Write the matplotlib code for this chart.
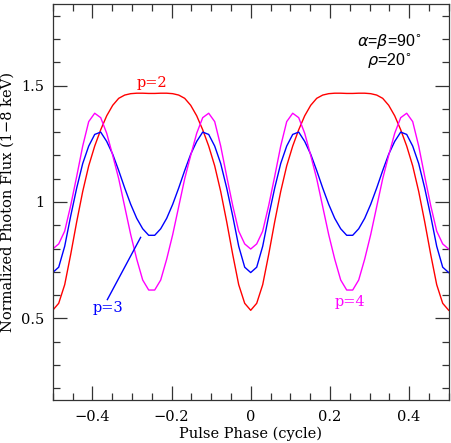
import numpy as np
import matplotlib
matplotlib.use("Agg")
import matplotlib.pyplot as plt
from matplotlib.ticker import MultipleLocator, FuncFormatter

# pulse phase grid (cycle)
phase = np.arange(-33, 34) / 66.0

flux_p2 = [0.535, 0.565, 0.645, 0.775, 0.915, 1.045, 1.155, 1.240, 1.310, 1.370, 1.415, 1.445, 1.459, 1.465, 1.467, 1.467, 1.466,
           1.466, 1.467, 1.467, 1.465, 1.459, 1.445, 1.415, 1.370, 1.310, 1.240, 1.155, 1.045, 0.915, 0.775, 0.645, 0.565, 0.535,
           0.565, 0.645, 0.775, 0.915, 1.045, 1.155, 1.240, 1.310, 1.370, 1.415, 1.445, 1.459, 1.465, 1.467, 1.467, 1.466,
           1.466, 1.467, 1.467, 1.465, 1.459, 1.445, 1.415, 1.370, 1.310, 1.240, 1.155, 1.045, 0.915, 0.775, 0.645, 0.565, 0.535]

flux_p3 = [0.697, 0.720, 0.810, 0.940, 1.060, 1.165, 1.240, 1.290, 1.300, 1.260, 1.205, 1.135, 1.060, 0.990, 0.930, 0.885, 0.857,
           0.857, 0.885, 0.930, 0.990, 1.060, 1.135, 1.205, 1.260, 1.300, 1.290, 1.240, 1.165, 1.060, 0.940, 0.810, 0.720, 0.697,
           0.720, 0.810, 0.940, 1.060, 1.165, 1.240, 1.290, 1.300, 1.260, 1.205, 1.135, 1.060, 0.990, 0.930, 0.885, 0.857,
           0.857, 0.885, 0.930, 0.990, 1.060, 1.135, 1.205, 1.260, 1.300, 1.290, 1.240, 1.165, 1.060, 0.940, 0.810, 0.720, 0.697]

flux_p4 = [0.798, 0.820, 0.875, 0.985, 1.110, 1.240, 1.345, 1.381, 1.362, 1.295, 1.200, 1.100, 0.980, 0.860, 0.755, 0.665, 0.622,
           0.622, 0.665, 0.755, 0.860, 0.980, 1.100, 1.200, 1.295, 1.362, 1.381, 1.345, 1.240, 1.110, 0.985, 0.875, 0.820, 0.798,
           0.820, 0.875, 0.985, 1.110, 1.240, 1.345, 1.381, 1.362, 1.295, 1.200, 1.100, 0.980, 0.860, 0.755, 0.665, 0.622,
           0.622, 0.665, 0.755, 0.860, 0.980, 1.100, 1.200, 1.295, 1.362, 1.381, 1.345, 1.240, 1.110, 0.985, 0.875, 0.820, 0.798]

serif = "DejaVu Serif"

fig = plt.figure(figsize=(4.52, 4.43), dpi=100)
ax = fig.add_axes([0.1166, 0.0971, 0.8761, 0.8939])

ax.plot(phase, flux_p2, color="#ff0000", lw=1.0)
ax.plot(phase, flux_p3, color="#0000ff", lw=1.0)
ax.plot(phase, flux_p4, color="#ff00ff", lw=1.0)

ax.set_xlim(-0.5, 0.5)
ax.set_ylim(0.15, 1.85)

ax.xaxis.set_major_locator(MultipleLocator(0.2))
ax.xaxis.set_minor_locator(MultipleLocator(0.05))
ax.yaxis.set_major_locator(MultipleLocator(0.5))
ax.yaxis.set_minor_locator(MultipleLocator(0.1))

def fmt(v, pos):
    if abs(v) < 1e-9:
        return "0"
    s = ("%.1f" % v).rstrip("0").rstrip(".")
    return s.replace("-", "\u2212")

ax.xaxis.set_major_formatter(FuncFormatter(fmt))
ax.yaxis.set_major_formatter(FuncFormatter(fmt))

ax.tick_params(which="both", direction="in", top=True, right=True, color="#333333", width=0.9)
ax.tick_params(which="major", length=10)
ax.tick_params(which="minor", length=5)
ax.tick_params(axis="x", which="major", pad=7)
ax.tick_params(axis="y", which="major", pad=6)
for lab in ax.get_xticklabels() + ax.get_yticklabels():
    lab.set_fontfamily(serif)
    lab.set_fontsize(10.5)
for sp in ax.spines.values():
    sp.set_color("#333333")
    sp.set_linewidth(0.9)

ax.set_xlabel("Pulse Phase (cycle)", fontfamily=serif, fontsize=10.5, labelpad=2)
ax.set_ylabel("Normalized Photon Flux (1\u22128 keV)", fontfamily=serif, fontsize=10.5, labelpad=5)

ax.text(-0.25, 1.512, "p=2", color="#ff0000", fontfamily=serif, fontsize=10.5, ha="center", va="center")
ax.text(-0.36, 0.544, "p=3", color="#0000ff", fontfamily=serif, fontsize=10.5, ha="center", va="center")
ax.text(0.251, 0.570, "p=4", color="#ff00ff", fontfamily=serif, fontsize=10.5, ha="center", va="center")
ax.plot([-0.362, -0.278], [0.581, 0.848], color="#0000ff", lw=1.0)

ax.text(0.35, 1.69, r"$\alpha$=$\beta$=90$^{\circ}$", fontsize=11.5, ha="center", va="center",
        fontfamily="Liberation Sans")
ax.text(0.35, 1.608, r"$\rho$=20$^{\circ}$", fontsize=11.5, ha="center", va="center",
        fontfamily="Liberation Sans")

fig.savefig("out.png", dpi=100)
